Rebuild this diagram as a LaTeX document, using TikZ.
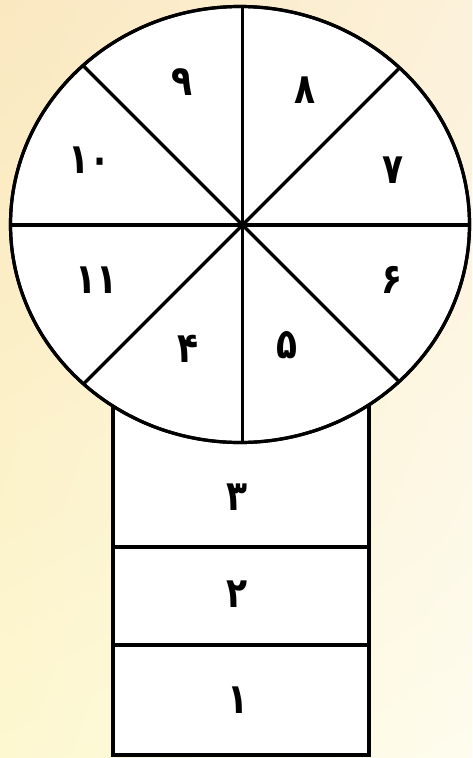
\documentclass[tikz,border=0pt]{standalone}
\usepackage{fontspec}
\usetikzlibrary{shadings}
\newfontfamily\fadigits[Script=Arabic,FakeStretch=0.82]{DejaVu Sans}
\definecolor{bgUL}{RGB}{250,232,192}
\definecolor{bgUR}{RGB}{252,241,218}
\definecolor{bgLL}{RGB}{253,248,208}
\definecolor{bgLR}{RGB}{254,252,238}
\begin{document}
\begin{tikzpicture}[x=1pt,y=-1pt,
  outline/.style={draw=black,line width=3.2pt,fill=white},
  spoke/.style={draw=black,line width=3.2pt},
  num/.style={font=\fadigits\bfseries\fontsize{42}{42}\selectfont,inner sep=0pt,
    text height=30pt,text depth=0pt}]
\useasboundingbox (0,0) rectangle (472,758);
\shade[upper left=bgUL, upper right=bgUR, lower left=bgLL, lower right=bgLR]
  (0,0) rectangle (472,758);
% column
\draw[outline] (113,380) rectangle (369,755);
\draw[spoke] (113,547) -- (369,547);
\draw[spoke] (113,645) -- (369,645);
% wheel
\coordinate (c) at (240,224.5);
\coordinate (hub) at (242.5,225);
\draw[outline] (c) ellipse [x radius=229.5, y radius=218];
\begin{scope}
  \clip (c) ellipse [x radius=229.5, y radius=218];
  \draw[spoke] (hub) -- ++(0,-300);
  \draw[spoke] (hub) -- ++(0,300);
  \draw[spoke] (hub) -- ++(-300,0);
  \draw[spoke] (hub) -- ++(300,0);
  \draw[spoke] (hub) -- ++(-250,-250);
  \draw[spoke] (hub) -- ++(250,-250);
  \draw[spoke] (hub) -- ++(-250,250);
  \draw[spoke] (hub) -- ++(250,250);
\end{scope}
\draw[outline,fill=none] (c) ellipse [x radius=229.5, y radius=218];
% labels
\node[num] (n9) at (182,80) {۹};
\node[num] (n8) at (305,88) {۸};
\node[num] (n7) at (393,168) {۷};
\node[num] (n10) at (90,158) {۱۰};
\node[num] (n11) at (97,278) {۱۱};
\node[num] (n6) at (392,278) {۶};
\node[num] (n4) at (188,347) {۴};
\node[num] (n5) at (287,343) {۵};
\node[num] (n3) at (237,495) {۳};
\node[num] (n2) at (237,592) {۲};
\node[num] (n1) at (238,698) {۱};
\end{tikzpicture}
\end{document}
